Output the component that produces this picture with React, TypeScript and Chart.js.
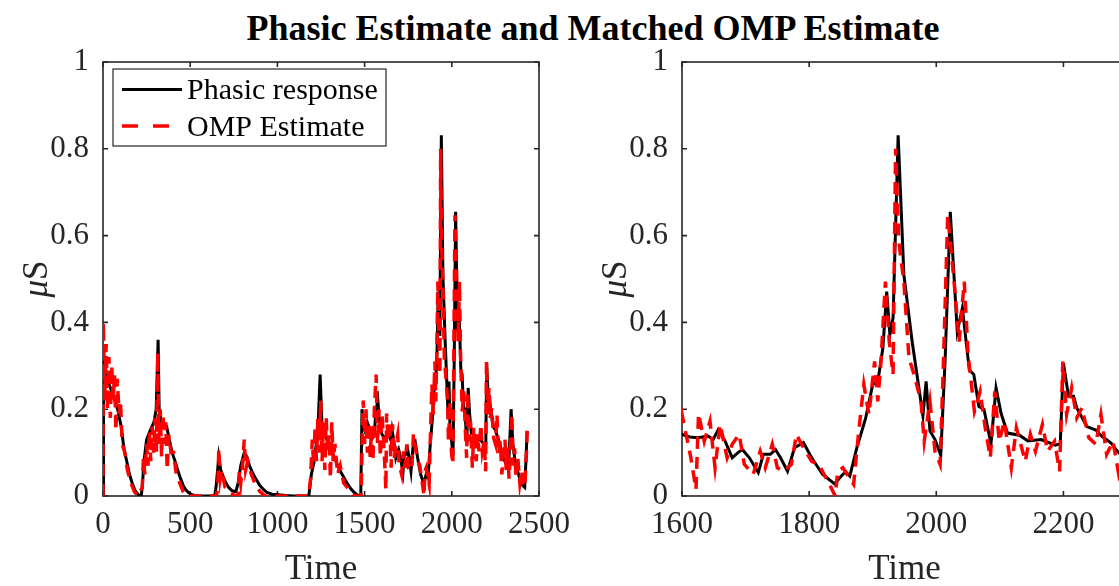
import React, { useEffect, useRef } from 'react';
import { Chart, registerables } from 'chart.js';

Chart.register(...registerables);

// ---------------- data ----------------
const phasicTime = [
  0, 3, 20, 42, 60, 84, 104, 120, 136, 152, 167, 185, 200, 219, 225, 235, 250, 270, 292, 305,
  316, 322, 334, 350, 365, 380, 397, 413, 428, 445, 459, 475, 490, 510, 530, 640, 648, 664, 675, 689,
  705, 720, 740, 762, 775, 790, 810, 825, 840, 856, 875, 898, 920, 940, 970, 1002, 1050, 1086, 1180, 1195,
  1211, 1232, 1245, 1255, 1273, 1295, 1315, 1335, 1357, 1378, 1399, 1420, 1441, 1461, 1478, 1485, 1495, 1503, 1515, 1524,
  1540, 1555, 1566, 1576, 1585, 1597,
  1600, 1612, 1625, 1641, 1649, 1657, 1668, 1679, 1688, 1695, 1706, 1720, 1728, 1739, 1747, 1755, 1766, 1777, 1791, 1804,
  1821, 1840, 1853, 1858, 1864, 1875, 1889, 1900, 1908, 1916, 1922, 1927, 1932, 1940, 1949, 1962, 1979, 1984, 1990, 1998,
  2007, 2014, 2022, 2033, 2041, 2052, 2059, 2067, 2075, 2086, 2094, 2102, 2112, 2131, 2144, 2165, 2187, 2195, 2200, 2208,
  2216, 2221, 2237, 2251, 2261, 2275, 2285, 2296, 2310, 2325, 2340, 2350, 2363, 2375, 2390, 2405, 2418, 2425, 2432,
];
const phasicValues = [
  0, 0.3, 0.27, 0.25, 0.23, 0.2, 0.16, 0.11, 0.08, 0.05, 0.03, 0.012, 0.004, 0, 0.02, 0.08, 0.13, 0.15, 0.17, 0.2,
  0.36, 0.2, 0.17, 0.16, 0.16, 0.13, 0.1, 0.08, 0.06, 0.04, 0.025, 0.014, 0.008, 0.003, 0, 0, 0.02, 0.09, 0.06, 0.045,
  0.03, 0.02, 0.012, 0.01, 0.03, 0.07, 0.1, 0.09, 0.07, 0.055, 0.04, 0.025, 0.015, 0.008, 0.004, 0.003, 0.001, 0, 0, 0.05,
  0.08, 0.15, 0.28, 0.17, 0.14, 0.12, 0.1, 0.08, 0.06, 0.045, 0.03, 0.017, 0.008, 0.002, 0, 0.2, 0.16, 0.15, 0.17, 0.16,
  0.13, 0.14, 0.2, 0.22, 0.17, 0.145,
  0.142, 0.136, 0.134, 0.138, 0.13, 0.153, 0.126, 0.088, 0.1, 0.107, 0.088, 0.054, 0.096, 0.096, 0.107, 0.088, 0.057, 0.111, 0.123, 0.088,
  0.05, 0.028, 0.05, 0.055, 0.046, 0.111, 0.18, 0.257, 0.264, 0.341, 0.471, 0.372, 0.41, 0.831, 0.51, 0.356, 0.185, 0.264, 0.15, 0.13,
  0.094, 0.318, 0.655, 0.379, 0.433, 0.29, 0.28, 0.206, 0.2, 0.12, 0.249, 0.19, 0.145, 0.14, 0.127, 0.13, 0.117, 0.12, 0.306, 0.23,
  0.23, 0.203, 0.16, 0.152, 0.137, 0.122, 0.103, 0.087, 0.075, 0.06, 0.2, 0.12, 0.08, 0.06, 0.04, 0.025, 0.02, 0.08, 0.15,
];

const ompTime = [
  0, 2, 10, 18, 26, 34, 42, 50, 58, 66, 74, 82, 92, 100, 110, 125, 140, 160, 180, 200,
  225, 232, 240, 250, 258, 266, 274, 282, 290, 298, 306, 314, 320, 328, 336, 344, 352, 360, 368, 378,
  390, 405, 420, 440, 460, 480, 650, 658, 664, 672, 680, 700, 720, 760, 775, 782, 790, 800, 810, 818,
  830, 850, 870, 900, 930, 1180, 1190, 1200, 1208, 1216, 1224, 1232, 1240, 1248, 1256, 1264, 1272, 1280, 1288, 1296,
  1304, 1312, 1320, 1330, 1345, 1360, 1380, 1400, 1440, 1480, 1486, 1492, 1500, 1508, 1516, 1524, 1532, 1540, 1548, 1556,
  1566, 1574, 1582, 1590,
  1600, 1614, 1622, 1626, 1635, 1644, 1652, 1660, 1671, 1679, 1690, 1698, 1712, 1723, 1731, 1742, 1750, 1761, 1772, 1780,
  1788, 1804, 1815, 1832, 1841, 1845, 1853, 1870, 1878, 1886, 1894, 1903, 1908, 1913, 1920, 1926, 1932, 1936, 1941, 1949,
  1957, 1965, 1976, 1981, 1990, 1998, 2006, 2011, 2018, 2028, 2036, 2044, 2050, 2060, 2069, 2077, 2085, 2092, 2099, 2107,
  2118, 2126, 2140, 2148, 2156, 2167, 2175, 2186, 2194, 2199, 2205, 2213, 2221, 2229, 2240, 2251, 2259, 2268, 2278, 2287,
  2295, 2305, 2312, 2320, 2328, 2336, 2344, 2352, 2360, 2368, 2378, 2390, 2400, 2410, 2420, 2428, 2432,
];
const ompValues = [
  0, 0.4, 0.22, 0.35, 0.2, 0.32, 0.18, 0.3, 0.22, 0.28, 0.15, 0.27, 0.19, 0.22, 0.12, 0.1, 0.06, 0.03, 0.01, 0,
  0.02, 0.09, 0.05, 0.12, 0.07, 0.15, 0.08, 0.16, 0.1, 0.18, 0.1, 0.33, 0.12, 0.2, 0.09, 0.19, 0.12, 0.17, 0.06, 0.14,
  0.1, 0.1, 0.05, 0.03, 0.01, 0, 0, 0.02, 0.11, 0.04, 0.06, 0.02, 0.01, 0, 0, 0.06, 0.03, 0.07, 0.13, 0.06,
  0.08, 0.05, 0.03, 0.01, 0, 0, 0.04, 0.13, 0.07, 0.16, 0.08, 0.18, 0.1, 0.22, 0.08, 0.17, 0.06, 0.18, 0.1, 0.14,
  0.04, 0.17, 0.08, 0.12, 0.05, 0.07, 0.03, 0.02, 0, 0, 0.12, 0.22, 0.12, 0.2, 0.1, 0.17, 0.09, 0.16, 0.08, 0.2,
  0.28, 0.12, 0.2, 0.09,
  0.188, 0.088, 0.015, 0.19, 0.126, 0.172, 0.065, 0.165, 0.088, 0.119, 0.142, 0.073, 0.05, 0.103, 0.065, 0.119, 0.065, 0.057, 0.073, 0.142,
  0.119, 0.08, 0.073, 0.027, 0, 0.057, 0.065, 0.027, 0.149, 0.257, 0.188, 0.31, 0.218, 0.31, 0.494, 0.356, 0.28, 0.8, 0.586, 0.494,
  0.318, 0.28, 0.218, 0.126, 0.218, 0.103, 0.073, 0.295, 0.647, 0.494, 0.356, 0.494, 0.326, 0.195, 0.241, 0.157, 0.088, 0.241, 0.126, 0.172,
  0.065, 0.157, 0.08, 0.142, 0.103, 0.165, 0.103, 0.126, 0.057, 0.31, 0.188, 0.249, 0.18, 0.203, 0.134, 0.119, 0.188, 0.096, 0.126, 0.05,
  0.09, 0.13, 0.06, 0.12, 0.04, 0.1, 0.19, 0.07, 0.11, 0.04, 0.09, 0.03, 0.06, 0.02, 0.03, 0.1, 0.15,
];

const yTicks = [0, 0.2, 0.4, 0.6, 0.8, 1];
const leftXTicks = [0, 500, 1000, 1500, 2000, 2500];
const rightXTicks = [1600, 1800, 2000, 2200];
const leftRange = [0, 2500];
const rightRange = [1600, 2300];
const yRange = [0, 1];

const TITLE = 'Phasic Estimate and Matched OMP Estimate';
const X_LABEL = 'Time';
const Y_LABEL_ITALIC = 'μ';
const Y_LABEL_UPRIGHT = 'S';
const SERIES_LABELS = ['Phasic response', 'OMP Estimate'];

// ---------------- style ----------------
const FAMILY = '"Liberation Serif", "Times New Roman", serif';
const AXIS_COLOR = '#262626';
const TEXT_COLOR = '#262626';
const TICK_FONT = 31;
const LABEL_FONT = 35;
const LEGEND_FONT = 30;
const TICK_LEN = 5;
const RED_DASH = [12, 8];

const framePlugin = {
  id: 'matlabFrame',
  beforeDatasetsDraw(chart: any) {
    const { ctx, chartArea: a } = chart;
    const xs = chart.scales.x;
    const ys = chart.scales.y;
    ctx.save();
    ctx.strokeStyle = AXIS_COLOR;
    ctx.lineWidth = 1.6;
    ctx.beginPath();
    for (const t of xs.ticks) {
      const p = xs.getPixelForValue(t.value);
      ctx.moveTo(p, a.bottom);
      ctx.lineTo(p, a.bottom - TICK_LEN);
      ctx.moveTo(p, a.top);
      ctx.lineTo(p, a.top + TICK_LEN);
    }
    for (const t of ys.ticks) {
      const p = ys.getPixelForValue(t.value);
      ctx.moveTo(a.left, p);
      ctx.lineTo(a.left + TICK_LEN, p);
      ctx.moveTo(a.right, p);
      ctx.lineTo(a.right - TICK_LEN, p);
    }
    ctx.stroke();
    ctx.strokeRect(a.left, a.top, a.right - a.left, a.bottom - a.top);
    ctx.restore();
  },
  afterDraw(chart: any) {
    const { ctx, chartArea: a } = chart;
    const cy = (a.top + a.bottom) / 2;
    const bx = a.left - 56;
    ctx.save();
    ctx.translate(bx, cy);
    ctx.rotate(-Math.PI / 2);
    ctx.fillStyle = TEXT_COLOR;
    ctx.textBaseline = 'alphabetic';
    const fI = `italic ${LABEL_FONT}px ${FAMILY}`;
    const fN = `${LABEL_FONT}px ${FAMILY}`;
    ctx.font = fI;
    const w1 = ctx.measureText(Y_LABEL_ITALIC).width;
    ctx.font = fN;
    const w2 = ctx.measureText(Y_LABEL_UPRIGHT).width;
    const x0 = -(w1 + w2) / 2;
    ctx.font = fI;
    ctx.fillText(Y_LABEL_ITALIC, x0, 0);
    ctx.font = fN;
    ctx.fillText(Y_LABEL_UPRIGHT, x0 + w1, 0);
    ctx.restore();
  },
};

const legendPlugin = {
  id: 'matlabLegend',
  afterDraw(chart: any) {
    const { ctx, chartArea: a } = chart;
    const ds = chart.data.datasets;
    const bx = a.left + 10;
    const by = a.top + 7;
    const w = 273;
    const h = 77;
    ctx.save();
    ctx.fillStyle = '#ffffff';
    ctx.fillRect(bx, by, w, h);
    ctx.strokeStyle = AXIS_COLOR;
    ctx.lineWidth = 1.2;
    ctx.strokeRect(bx, by, w, h);
    const rows = [by + 20.5, by + 57];
    ds.forEach((d: any, i: number) => {
      const y = rows[i];
      ctx.beginPath();
      ctx.strokeStyle = d.borderColor;
      ctx.lineWidth = d.borderWidth;
      ctx.setLineDash(i === 1 ? [16, 15] : []);
      ctx.moveTo(bx + 9, y);
      ctx.lineTo(bx + 69, y);
      ctx.stroke();
      ctx.setLineDash([]);
      ctx.fillStyle = '#000';
      ctx.font = `${LEGEND_FONT}px ${FAMILY}`;
      ctx.textBaseline = 'middle';
      ctx.textAlign = 'left';
      ctx.fillText(d.label, bx + 74, y + 2);
    });
    ctx.restore();
  },
};

function buildConfig(range: number[], xTicks: number[], withLegend: boolean, rightPad: number, yAxisWidth: number): any {
  const phasic = phasicTime.map((t, i) => ({ x: t, y: phasicValues[i] }));
  const omp = ompTime.map((t, i) => ({ x: t, y: ompValues[i] }));
  return {
    type: 'line',
    data: {
      datasets: [
        {
          label: SERIES_LABELS[0],
          data: phasic,
          borderColor: '#000000',
          borderWidth: 3,
          pointRadius: 0,
          tension: 0,
          order: 1,
        },
        {
          label: SERIES_LABELS[1],
          data: omp,
          borderColor: '#ff0000',
          borderWidth: 3.5,
          borderDash: RED_DASH,
          pointRadius: 0,
          tension: 0,
          order: 0,
        },
      ],
    },
    options: {
      responsive: false,
      animation: false,
      events: [],
      layout: { padding: { top: 62, left: 0, right: rightPad, bottom: 0 } },
      plugins: {
        legend: { display: false },
        tooltip: { enabled: false },
        title: { display: false },
      },
      scales: {
        x: {
          type: 'linear',
          min: range[0],
          max: range[1],
          afterBuildTicks: (s: any) => {
            s.ticks = xTicks.map((v) => ({ value: v }));
          },
          afterFit: (s: any) => {
            s.height = 90;
          },
          grid: { display: false, drawTicks: false },
          border: { display: false },
          ticks: {
            font: { family: FAMILY, size: TICK_FONT },
            color: TEXT_COLOR,
            padding: 10,
            maxRotation: 0,
            autoSkip: false,
            callback: (v: any) => String(v),
          },
          title: {
            display: true,
            text: X_LABEL,
            font: { family: FAMILY, size: LABEL_FONT },
            color: TEXT_COLOR,
            padding: { top: 0, bottom: -5 },
          },
        },
        y: {
          type: 'linear',
          min: yRange[0],
          max: yRange[1],
          afterBuildTicks: (s: any) => {
            s.ticks = yTicks.map((v) => ({ value: v }));
          },
          afterFit: (s: any) => {
            s.width = yAxisWidth;
          },
          grid: { display: false, drawTicks: false },
          border: { display: false },
          ticks: {
            font: { family: FAMILY, size: TICK_FONT },
            color: TEXT_COLOR,
            padding: 14,
            callback: (v: any) => String(v),
          },
        },
      },
    },
    plugins: withLegend ? [framePlugin, legendPlugin] : [framePlugin],
  };
}

export default function App() {
  const leftRef = useRef<HTMLCanvasElement | null>(null);
  const rightRef = useRef<HTMLCanvasElement | null>(null);

  useEffect(() => {
    const left = new Chart(leftRef.current as HTMLCanvasElement, buildConfig(leftRange, leftXTicks, true, 32, 103));
    const right = new Chart(rightRef.current as HTMLCanvasElement, buildConfig(rightRange, rightXTicks, false, 33, 102));
    return () => {
      left.destroy();
      right.destroy();
    };
  }, []);

  return (
    <div
      style={{
        position: 'fixed',
        left: 0,
        top: 0,
        width: 1119,
        height: 586,
        overflow: 'hidden',
        background: '#ffffff',
      }}
    >
      <div
        style={{
          position: 'absolute',
          left: 0,
          top: 7,
          width: 1186,
          height: 36,
          lineHeight: '36px',
          textAlign: 'center',
          whiteSpace: 'nowrap',
          font: `bold 36px ${FAMILY}`,
          color: '#000',
        }}
      >
        {TITLE}
      </div>
      <canvas
        ref={leftRef}
        width={580}
        height={586}
        style={{ position: 'absolute', left: 0, top: 0, width: 580, height: 586 }}
      />
      <canvas
        ref={rightRef}
        width={580}
        height={586}
        style={{ position: 'absolute', left: 580, top: 0, width: 580, height: 586 }}
      />
    </div>
  );
}
